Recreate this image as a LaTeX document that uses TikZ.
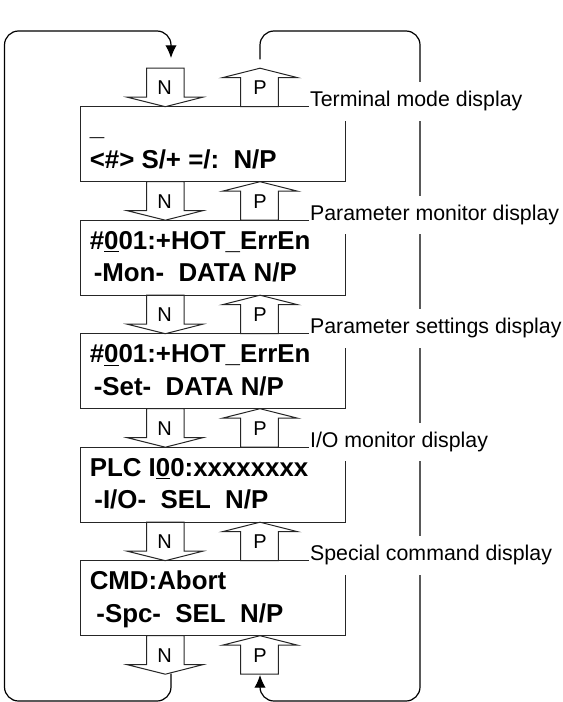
\documentclass[tikz,border=0pt]{standalone}
\usepackage{fontspec}
\setmainfont{Liberation Sans}
\usetikzlibrary{arrows.meta, calc}

\begin{document}
\begin{tikzpicture}[
  x=0.75pt, y=-0.75pt,
  display/.style={rectangle, draw=black!85, line width=0.75pt,
                  minimum width=198.75pt, minimum height=56.25pt, inner sep=0pt},
  lcd/.style={anchor=base west, inner sep=0pt,
              font=\fontsize{19.4}{23}\selectfont\bfseries},
  blockarrow/.style={draw=black!85, line width=0.75pt, line join=miter},
  key/.style={inner sep=0pt, font=\fontsize{15}{18}\selectfont},
  caption/.style={anchor=base west, fill=white, inner xsep=1pt, inner ysep=6.5pt,
                  text height=12pt, text depth=4pt, font=\fontsize{16}{19}\selectfont},
  loopline/.style={line width=0.9pt, rounded corners=10.5pt},
  >={Latex[length=9.5pt, width=8.5pt]},
]
\useasboundingbox (0,0) rectangle (563,702);

% ---- displays ----
\node[display] (term)  at (212.5,144.2) {};
\node[display] (pmon)  at (212.5,257.7) {};
\node[display] (pset)  at (212.5,371.2) {};
\node[display] (iomon) at (212.5,484.7) {};
\node[display] (spcmd) at (212.5,598.2) {};

% ---- display texts ----
\node[lcd] (term1)  at (89.5,135.7) {\_};
\node[lcd] (term2)  at (89.5,168.2) {<\#> S/+ =/:\ \ N/P};
\node[lcd] (pmon1)  at (89.5,249.2) {\#\underline{0}01:+HOT\_ErrEn};
\node[lcd] (pmon2)  at (89.5,281.7) {\kern3pt-Mon-\ \ DATA N/P};
\node[lcd] (pset1)  at (89.5,362.7) {\#\underline{0}01:+HOT\_ErrEn};
\node[lcd] (pset2)  at (89.5,395.2) {\kern3pt-Set-\ \ DATA N/P};
\node[lcd] (iomon1) at (89.5,476.2) {PLC I\underline{0}0:xxxxxxxx};
\node[lcd] (iomon2) at (89.5,508.7) {\kern3.5pt-I/O-\ \ SEL\ \ N/P};
\node[lcd] (spcmd1) at (89.5,589.7) {CMD:Abort};
\node[lcd] (spcmd2) at (89.5,622.2) {\kern5pt-Spc-\ \ SEL\ \ N/P};

% ---- N / P keys ----
\foreach \i/\t in {1/68.2, 2/181.7, 3/295.2, 4/408.7, 5/522.2, 6/635.7} {
  \draw[blockarrow] (146.7,\t) -- (146.7,\t+29) -- (127.3,\t+29) -- (165.3,\t+38.5)
    -- (202.7,\t+29) -- (184,\t+29) -- (184,\t) -- cycle;
  \node[key] (nkey\i) at (164.5,\t+19.5) {N};
  \draw[blockarrow] (240.7,\t+38.5) -- (240.7,\t+9.5) -- (222.3,\t+9.5) -- (260,\t)
    -- (297.7,\t+9.5) -- (278.3,\t+9.5) -- (278.3,\t+38.5) -- cycle;
  \node[key] (pkey\i) at (260,\t+19.5) {P};
}

% ---- wrap-around ----
\coordinate (nout) at (171,673.5);
\coordinate (nin)  at (171,58);
\coordinate (pout) at (260,59.3);
\coordinate (pin)  at (260,675);
\draw[loopline, ->] (nout) -- (171,701) -- (4.5,701) -- (4.5,31) -- (171,31) -- (nin);
\draw[loopline, ->] (pout) -- (260,31) -- (420,31) -- (420,701) -- (260,701) -- (pin);

% ---- captions ----
\node[caption] (cterm)  at (308.5,106.7) {Terminal mode display};
\node[caption] (cpmon)  at (308.5,220.2) {Parameter monitor display};
\node[caption] (cpset)  at (308.5,333.7) {Parameter settings display};
\node[caption] (ciomon) at (308.5,447.2) {I/O monitor display};
\node[caption] (cspcmd) at (308.5,560.7) {Special command display};

\end{tikzpicture}
\end{document}
